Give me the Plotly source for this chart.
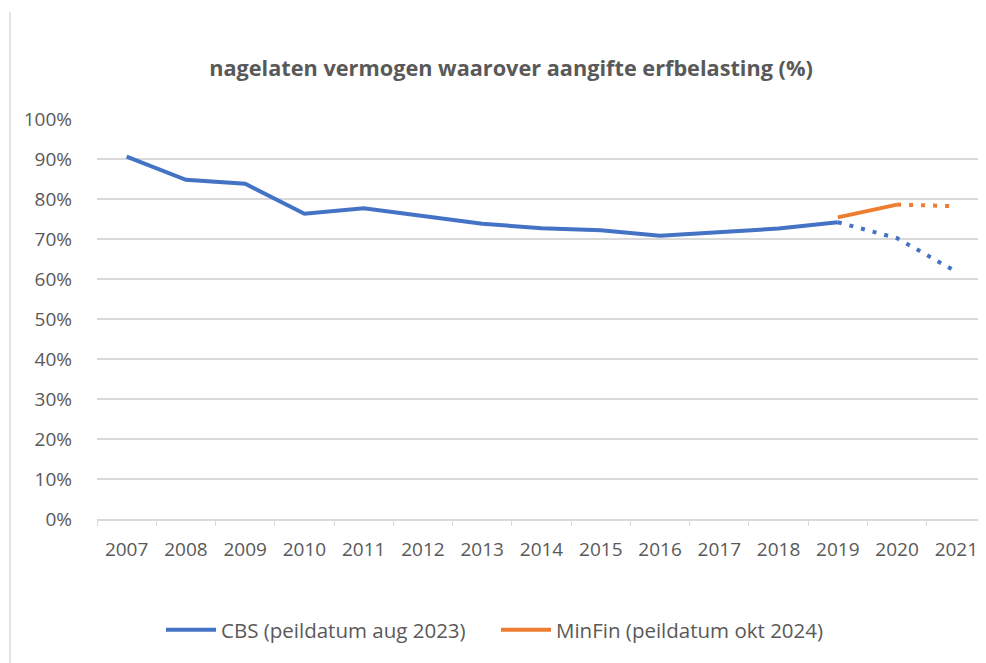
import plotly.graph_objects as go

years = ["2007", "2008", "2009", "2010", "2011", "2012", "2013", "2014",
         "2015", "2016", "2017", "2018", "2019", "2020", "2021"]
cbs = [90.6, 84.8, 83.8, 76.3, 77.7, 75.8, 73.8, 72.7, 72.2, 70.8, 71.8, 72.6, 74.2, 70.2, 61.8]
minfin = [None] * 12 + [75.4, 78.6, 78.2]
cbs_solid_until = "2019"
minfin_solid_until = "2020"

BLUE = "#4472C4"
ORANGE = "#ED7D31"
FONT = "Open Sans"
TXT = "#595959"

# figure is offset by the page's 8px body margin
W, H = 978, 655
L, R, T, B = 89, 0, 111, 144
PW, PH = W - L - R, H - T - B

i_cbs = years.index(cbs_solid_until)
i_mf = years.index(minfin_solid_until)

fig = go.Figure()
fig.add_trace(go.Scatter(x=years[i_cbs:], y=cbs[i_cbs:], mode="lines",
                         line=dict(color=BLUE, width=4, dash="4px,8px"),
                         showlegend=False, hoverinfo="skip"))
fig.add_trace(go.Scatter(x=years[:i_cbs + 1], y=cbs[:i_cbs + 1], mode="lines",
                         line=dict(color=BLUE, width=4),
                         name="CBS (peildatum aug 2023)"))
fig.add_trace(go.Scatter(x=years[i_mf:], y=minfin[i_mf:], mode="lines",
                         line=dict(color=ORANGE, width=4, dash="4px,8px"),
                         showlegend=False, hoverinfo="skip"))
fig.add_trace(go.Scatter(x=years[:i_mf + 1], y=minfin[:i_mf + 1], mode="lines",
                         line=dict(color=ORANGE, width=4),
                         name="MinFin (peildatum okt 2024)"))

fig.update_layout(
    width=W, height=H,
    paper_bgcolor="white", plot_bgcolor="white",
    margin=dict(l=L, r=R, t=T, b=B, pad=0),
    title=dict(text="<b>nagelaten vermogen waarover aangifte erfbelasting (%)</b>",
               x=503 / W, xanchor="center", y=1 - 60 / H, yanchor="middle",
               font=dict(family=FONT, size=21.7, color=TXT)),
    font=dict(family=FONT, size=19, color=TXT),
    showlegend=True,
    legend=dict(orientation="h", xref="container", yref="container",
                x=488 / W, xanchor="center", y=1 - 622 / H, yanchor="middle",
                font=dict(family=FONT, size=20.5, color=TXT),
                itemwidth=50, entrywidth=270, entrywidthmode="pixels",
                bgcolor="rgba(0,0,0,0)"),
    xaxis=dict(type="category", categoryorder="array", categoryarray=years,
               range=[-0.5, len(years) - 0.5],
               showgrid=False, showline=True, linecolor="#d9d9d9", linewidth=1.5,
               ticks="outside", tickson="boundaries", ticklen=5, tickcolor="#d9d9d9",
               ticklabelstandoff=12, tickfont=dict(size=19, color=TXT),
               zeroline=False),
    yaxis=dict(range=[0, 100], tickvals=list(range(0, 101, 10)),
               ticktext=[f"{v}%" for v in range(0, 101, 10)],
               showgrid=True, gridcolor="#d9d9d9", gridwidth=1.5,
               showline=False, zeroline=False, ticks="",
               ticklabelstandoff=24, tickfont=dict(size=19, color=TXT)),
    shapes=[dict(type="line", xref="paper", yref="paper",
                 x0=(2 - L) / PW, x1=(2 - L) / PW,
                 y0=(T + PH - 4) / PH, y1=(T + PH - H) / PH,
                 line=dict(color="#e3e3e3", width=2))],
)

fig.write_html("out.html")
